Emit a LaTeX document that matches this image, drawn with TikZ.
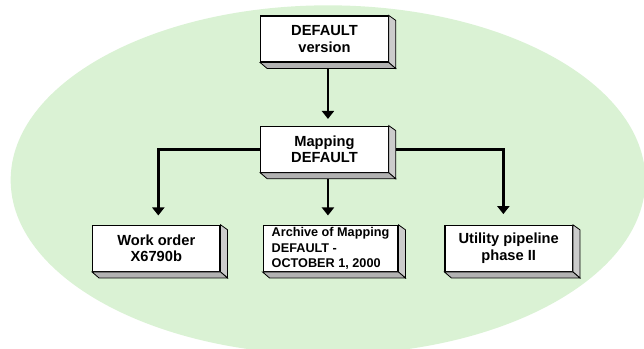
\documentclass[tikz,border=0pt]{standalone}
\usepackage{fontspec}
\setmainfont{Liberation Sans}
\usepackage{xcolor}
\usepackage{tikz}
\usetikzlibrary{positioning,arrows.meta}
\definecolor{bgreen}{RGB}{218,242,212}
\tikzset{
    version/.style={
        rectangle,
        draw=black,
        line width=0.9pt,
        fill=white,
        align=center,
        font=\bfseries\fontsize{11}{12.5}\selectfont,
        minimum width=95.5pt,
        minimum height=34.5pt,
        inner sep=1pt
    },
    arrow/.style={
        line width=2.2pt,
        -{Triangle[width=9pt,length=6pt]}
    }
}
\begin{document}
\begin{tikzpicture}[x=0.75pt,y=-0.75pt]
          \useasboundingbox (0,0) rectangle (644,349);
          \clip (0,0) rectangle (644,349);
          \fill [bgreen] (328,180) ellipse [x radius=238pt, y radius=131pt];
          \node (ver) [version] at (324.5,39) {DEFAULT\\version};
          \node (map) [version, below=47.25pt of ver] {Mapping\\DEFAULT};
          \node (arch) [version, below=39pt of map, xshift=4.5pt, minimum width=101pt, align=left,
                font=\bfseries\fontsize{9.5}{11.3}\selectfont, inner sep=0pt] {Archive of Mapping\\DEFAULT -\\OCTOBER 1, 2000};
          \node (work) [version, left=31.5pt of arch] {Work order\\X6790b};
          \node (util) [version, right=34.5pt of arch] {Utility pipeline\\phase II};
          % arrows
          \draw [arrow, shorten <=5pt, shorten >=5pt] ([xshift=2.6pt]ver.south) -- ([xshift=2.6pt]map.north);
          \draw [arrow, shorten <=5pt, shorten >=7pt] ([xshift=2.6pt]map.south) -- ([xshift=2.6pt]map.south |- arch.north);
          \draw [arrow, shorten >=7pt] (map.west) -| ([xshift=1.5pt]work.north);
          \draw [arrow, shorten >=8pt] (map.east) -| ([xshift=-4pt]util.north);
          % 3d sides of the boxes
          \foreach \n in {ver,map,work,arch,util} {
              \filldraw [fill=gray!40, draw=black, line width=0.6pt]
                  (\n.north east) -- ++(7,5) -- ([shift={(7,6)}]\n.south east) -- (\n.south east) -- cycle;
              \filldraw [fill=gray!60, draw=black, line width=0.6pt]
                  (\n.south west) -- ++(7,6) -- ([shift={(7,6)}]\n.south east) -- (\n.south east) -- cycle;
          }
        \end{tikzpicture}
\end{document}
